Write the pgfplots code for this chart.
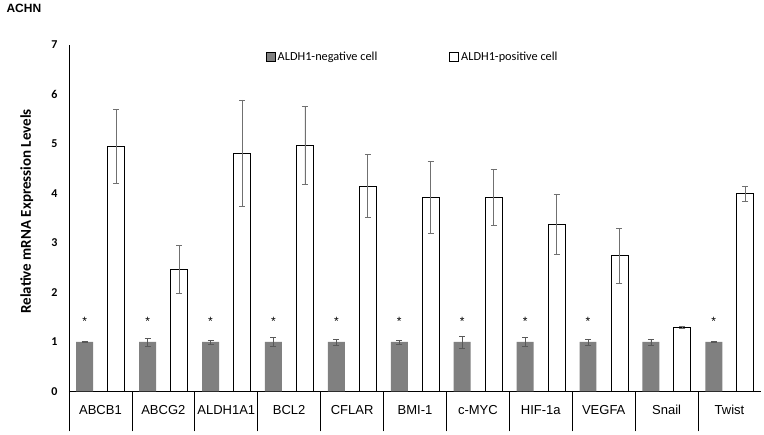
\documentclass[border=0pt]{standalone}
\usepackage{fontspec}
\setmainfont{Liberation Sans}
\newfontfamily\calibri{Carlito}
\usepackage{pgfplots}
\usepackage{pgfplotstable}
\pgfplotsset{compat=1.18}
\definecolor{barGray}{HTML}{808080}
\definecolor{errDark}{HTML}{595959}
\definecolor{errMid}{HTML}{707070}
\pgfplotstableread{
x y e
0 1.00 0.01
1 1.00 0.08
2 1.00 0.04
3 1.00 0.09
4 1.00 0.06
5 1.00 0.04
6 1.00 0.12
7 1.00 0.09
8 1.00 0.06
9 1.00 0.06
10 1.00 0.01
}\negtable
\pgfplotstableread{
x y e
0 4.95 0.75
1 2.47 0.48
2 4.81 1.08
3 4.97 0.78
4 4.15 0.64
5 3.92 0.72
6 3.92 0.56
7 3.38 0.61
8 2.74 0.56
9 1.29 0.02
10 4.00 0.15
}\postable
\begin{document}
\begin{tikzpicture}
\path[use as bounding box] (-69pt,-43.5pt) rectangle (695pt,391.5pt);
\begin{axis}[
  at={(0pt,0pt)}, anchor=south west,
  scale only axis, width=692pt, height=346.5pt,
  xmin=-0.5, xmax=10.5, ymin=0, ymax=7,
  axis x line=bottom, axis y line=left,
  axis line style={-, black, line width=0.8pt},
  xtick={0,...,10},
  xticklabels={ABCB1,ABCG2,ALDH1A1,BCL2,CFLAR,BMI-1,c-MYC,HIF-1a,VEGFA,Snail,Twist},
  major tick length=0pt,
  xticklabel style={font=\fontsize{13}{15}\selectfont, anchor=base, yshift=-23.5pt},
  extra x ticks={-0.5,0.5,1.5,2.5,3.5,4.5,5.5,6.5,7.5,8.5,9.5},
  extra x tick labels={},
  extra x tick style={major tick length=40pt, tick align=outside, tick style={black, line width=0.8pt}},
  ytick={0,1,2,3,4,5,6,7},
  yticklabel style={font=\calibri\bfseries\fontsize{12}{14}\selectfont, xshift=-8pt},
  /pgf/number format/assume math mode=true,
  ylabel={Relative mRNA Expression Levels},
  ylabel style={font=\calibri\bfseries\fontsize{15}{17}\selectfont, at={(axis description cs:-0.061,0.52)}, anchor=center},
  legend style={at={(0.497,0.965)}, anchor=center, draw=none, fill=none,
    font=\calibri\fontsize{12.3}{14}\selectfont,
    /tikz/every even column/.append style={column sep=70pt}},
  legend columns=2,
  legend image code/.code={\draw[#1] (0pt,-4.5pt) rectangle (9pt,4.5pt);},
]
\addplot[ybar, bar width=0.27, bar shift=0, fill=barGray, draw=none,
  error bars/.cd, y dir=both, y explicit,
  error bar style={errDark, line width=0.8pt},
  error mark options={rotate=90, mark size=3pt, errDark, line width=0.8pt}]
  table[x expr=\thisrow{x}-0.25, y=y, y error=e] {\negtable};
\addlegendentry{ALDH1-negative cell}
\addplot[ybar, bar width=0.27, bar shift=0, fill=white, draw=black, line width=0.9pt,
  error bars/.cd, y dir=both, y explicit,
  error bar style={errMid, line width=0.8pt},
  error mark options={rotate=90, mark size=3pt, errMid, line width=0.8pt}]
  table[x expr=\thisrow{x}+0.25, y=y, y error=e] {\postable};
\addlegendentry{ALDH1-positive cell}
\addplot[forget plot, draw=none, mark=none,
  nodes near coords={*}, nodes near coords align={center},
  every node near coord/.append style={font=\fontsize{12}{12}\selectfont, text=black}]
  coordinates {(-0.25,1.42) (0.75,1.42) (1.75,1.42) (2.75,1.42) (3.75,1.42) (4.75,1.42) (5.75,1.42) (6.75,1.42) (7.75,1.42) (9.75,1.42)};
\end{axis}
\node[anchor=base west, font=\bfseries\fontsize{12}{14}\selectfont] at (-66pt,378.5pt) {ACHN};
\end{tikzpicture}
\end{document}
